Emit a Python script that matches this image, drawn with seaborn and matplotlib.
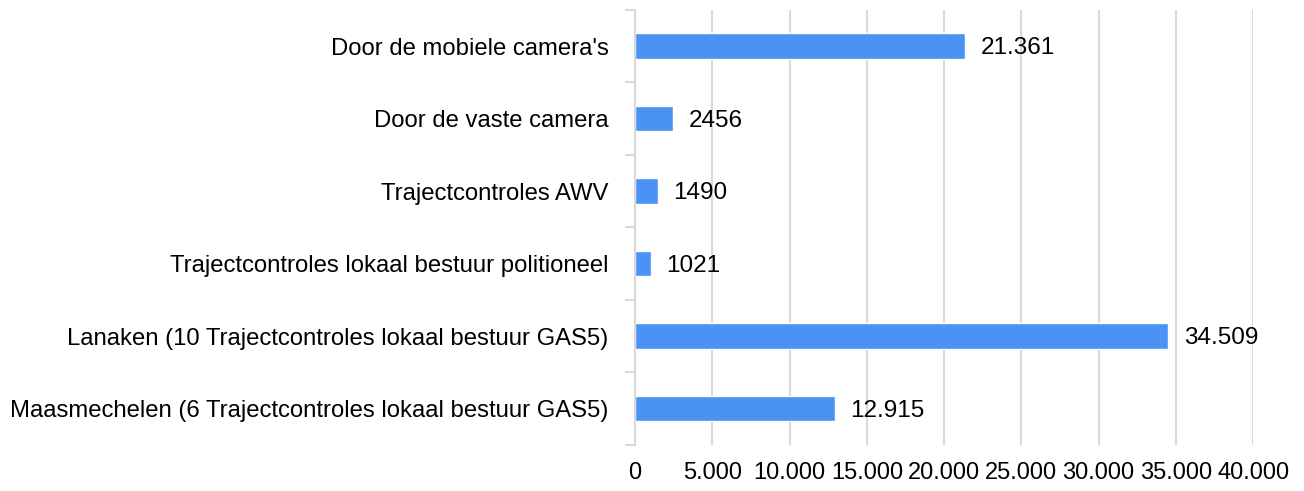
import matplotlib.pyplot as plt
import matplotlib.ticker as mticker
import pandas as pd
import seaborn as sns

categories = [
    "Door de mobiele camera's",
    "Door de vaste camera",
    "Trajectcontroles AWV",
    "Trajectcontroles lokaal bestuur politioneel",
    "Lanaken (10 Trajectcontroles lokaal bestuur GAS5)",
    "Maasmechelen (6 Trajectcontroles lokaal bestuur GAS5)",
]
values = [21361, 2456, 1490, 1021, 34509, 12915]
value_labels = ["21.361", "2456", "1490", "1021", "34.509", "12.915"]
x_ticks = [0, 5000, 10000, 15000, 20000, 25000, 30000, 35000, 40000]
x_tick_labels = ["0", "5.000", "10.000", "15.000", "20.000", "25.000",
                 "30.000", "35.000", "40.000"]


def main():
    data = pd.DataFrame({"category": categories, "value": values})
    sns.set_theme(style="white")
    plt.rcParams["font.family"] = ["Liberation Sans", "DejaVu Sans"]

    fig = plt.figure(figsize=(13.04, 4.91), dpi=100)
    ax = fig.add_axes([0.487, 0.094, 0.474, 0.886])
    sns.barplot(data=data, x="value", y="category", color="#4a93f5",
                saturation=1, width=0.35, ax=ax)

    for i, (v, lab) in enumerate(zip(values, value_labels)):
        ax.text(v + 1000, i + 0.03, lab, va="center", ha="left",
                fontsize=17.5, color="black")

    ax.set_xlim(0, 40000)
    ax.set_ylim(len(categories) - 0.5, -0.5)
    ax.set_xticks(x_ticks)
    ax.set_xticklabels(x_tick_labels,
                       family=["Liberation Sans Narrow", "Liberation Sans"],
                       fontsize=17, color="black")
    ax.tick_params(axis="x", length=0, pad=12)
    ax.tick_params(axis="y", length=0, labelsize=17.2, labelcolor="black", pad=19)
    ax.yaxis.set_minor_locator(mticker.FixedLocator(
        [i - 0.5 for i in range(len(categories) + 1)]))
    ax.tick_params(axis="y", which="minor", length=7, width=1.5,
                   color="#d9d9d9", left=True)
    ax.xaxis.grid(True, color="#d9d9d9", linewidth=1.5)
    ax.set_axisbelow(True)
    ax.set_xlabel("")
    ax.set_ylabel("")
    for side in ["top", "right", "bottom"]:
        ax.spines[side].set_visible(False)
    ax.spines["left"].set_color("#d9d9d9")
    ax.spines["left"].set_linewidth(1.5)

    fig.savefig("out.png", dpi=100)
    plt.close(fig)


if __name__ == "__main__":
    main()
